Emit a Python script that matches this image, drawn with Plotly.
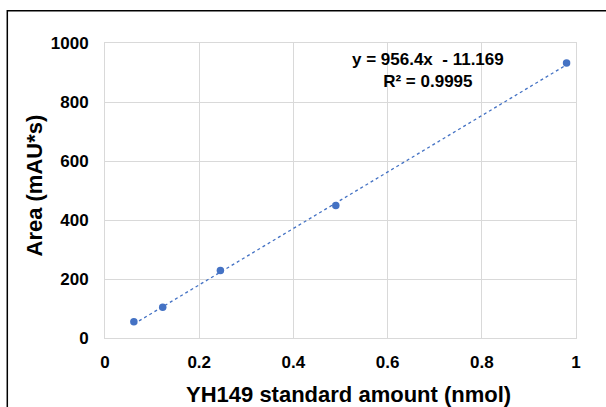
import plotly.graph_objects as go

# Data
amount_nmol = [0.0613, 0.1225, 0.245, 0.49, 0.98]
area_mAUs = [55, 104, 229, 449, 932]
slope = 956.4
intercept = -11.169
r_squared = "0.9995"

x_ticks = [0, 0.2, 0.4, 0.6, 0.8, 1]
y_ticks = [0, 200, 400, 600, 800, 1000]

W, H = 606, 407
L, R, T, B = 105, 30, 43, 69
pw, ph = W - L - R, H - T - B

def xp(px):
    return (px - L) / pw

def yp(py):
    return (H - B - py) / ph

color = "#4472C4"
font_family = "Liberation Sans, Arial, sans-serif"

trend_x = [min(amount_nmol), max(amount_nmol)]
trend_y = [slope * v + intercept for v in trend_x]

fig = go.Figure()
fig.add_trace(go.Scatter(x=trend_x, y=trend_y, mode="lines",
                         line=dict(color=color, width=1.3, dash="dot"),
                         hoverinfo="skip", showlegend=False))
fig.add_trace(go.Scatter(x=amount_nmol, y=area_mAUs, mode="markers",
                         marker=dict(color=color, size=7.5),
                         showlegend=False))

axis_common = dict(showgrid=True, gridcolor="#d9d9d9", gridwidth=1,
                   showline=True, linecolor="#d9d9d9", linewidth=1, mirror=True,
                   zeroline=False, ticks="",
                   tickfont=dict(family=font_family, size=17, color="black", weight="bold"))

fig.update_xaxes(range=[0, 1], tickvals=x_ticks, ticktext=[f"{v:g}" for v in x_ticks],
                 ticklabelstandoff=9, **axis_common)
fig.update_yaxes(range=[0, 1000], tickvals=y_ticks, ticktext=[str(v) for v in y_ticks],
                 ticklabelstandoff=12, **axis_common)

fig.add_annotation(x=xp(427.5), y=yp(70), xref="paper", yref="paper",
                   text=f"y = {slope}x  - {abs(intercept)}<br>R² = {r_squared}",
                   showarrow=False, align="center", xanchor="center", yanchor="middle",
                   font=dict(family=font_family, size=17, color="black", weight="bold"))
fig.add_annotation(x=xp(348), y=yp(394), xref="paper", yref="paper",
                   text="YH149 standard amount (nmol)", showarrow=False,
                   xanchor="center", yanchor="middle",
                   font=dict(family=font_family, size=22, color="black", weight="bold"))
fig.add_annotation(x=xp(33.5), y=yp(186), xref="paper", yref="paper",
                   text="Area (mAU*s)", showarrow=False, textangle=-90,
                   xanchor="center", yanchor="middle",
                   font=dict(family=font_family, size=22, color="black", weight="bold"))

fig.add_shape(type="rect", xref="paper", yref="paper",
              x0=xp(7.3), y0=yp(10.7), x1=xp(W + 50), y1=yp(H + 50),
              line=dict(color="black", width=1.5), fillcolor="rgba(0,0,0,0)", layer="above")

fig.update_layout(width=W, height=H, margin=dict(l=L, r=R, t=T, b=B),
                  paper_bgcolor="white", plot_bgcolor="white",
                  font=dict(family=font_family, color="black"))

fig.write_html("out.html")
